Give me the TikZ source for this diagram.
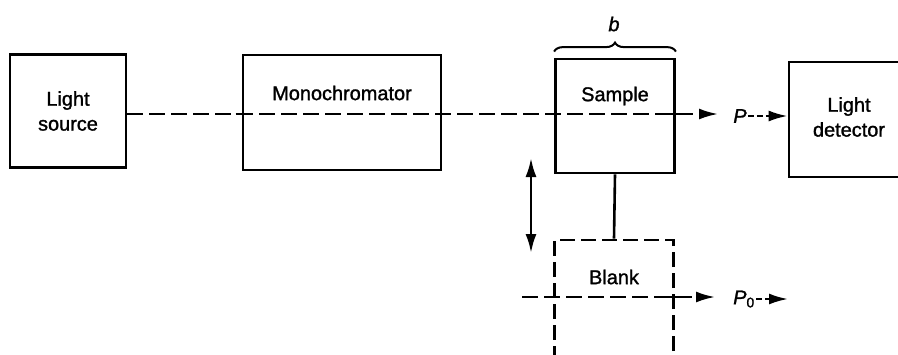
\documentclass[tikz,border=0pt]{standalone}
\usepackage{fontspec}
\setmainfont{Liberation Sans}[FakeBold=1.3]
\usetikzlibrary{arrows.meta,decorations.pathreplacing}
\begin{document}
\begin{tikzpicture}[x=1bp,y=-1bp, line width=2.6bp,
  box/.style={draw, rectangle, inner sep=0pt, line width=2.8bp},
  lbl/.style={font=\fontsize{20}{25}\selectfont, align=center, inner sep=0pt},
  beam/.style={dash pattern=on 16bp off 6bp, line width=2.3bp},
  tipend/.style={-{Latex[length=19bp,width=11bp]}},
  tick/.style={line width=2.3bp}]
\useasboundingbox (0,0) rectangle (898,354);
\clip (0,0) rectangle (898,354);
% boxes
\node[box, minimum width=116bp, minimum height=113bp] (ls) at (68,111) {};
\node[lbl] (lstxt) at (68,111) {Light\\source};
\node[box, minimum width=198bp, minimum height=115bp] (mono) at (342,112.5) {};
\node[lbl] (monotxt) at (342,93) {Monochromator};
\node[box, minimum width=119bp, minimum height=114bp] (sample) at (615,116) {};
\node[lbl] (sampletxt) at (615,96) {Sample};
\node[box, minimum width=120bp, minimum height=115bp] (det) at (849,119.5) {};
\node[lbl] (dettxt) at (849,117) {Light\\detector};
\node[box, dash pattern=on 15bp off 6bp, minimum width=119bp, minimum height=160bp] (blank) at (614,320) {};
\node[lbl] (blanktxt) at (614,277) {Blank};
% brace
\draw[decorate, decoration={brace, amplitude=9bp}, line width=2bp]
  ([yshift=6bp]sample.north west) -- ([yshift=6bp]sample.north east);
\node[lbl, font=\fontsize{20}{25}\selectfont\itshape] (b) at (614,24) {b};
% main beam
\coordinate (pend) at (718,114);
\draw[beam, tipend] (ls.east |- pend) -- (pend);
\foreach \n in {mono.west, mono.east, sample.west, sample.east}
  \draw[tick] ([xshift=-6bp]\n |- pend) -- ([xshift=6bp]\n |- pend);
\node[lbl, font=\fontsize{20}{25}\selectfont\itshape] (P) at (740,116) {P};
\draw[beam, dash pattern=on 6bp off 3bp, tipend] (P.east) -- (det.west |- P.east);
% link sample-blank
\draw (sample.south) -- (blank.north);
% double arrow
\coordinate (da1) at (531,158);
\coordinate (da2) at (531,253);
\draw[{Latex[length=19bp,width=11bp]}-{Latex[length=19bp,width=11bp]}] (da1) -- (da2);
% blank beam
\coordinate (bb0) at (522,297);
\coordinate (bb1) at (715,297);
\draw[beam, tipend] (bb0) -- (bb1);
\foreach \n in {blank.west, blank.east}
  \draw[tick] ([xshift=-6bp]\n |- bb0) -- ([xshift=6bp]\n |- bb0);
\node[lbl] (P0) at (744,299) {\itshape P\textsubscript{\upshape 0}};
\coordinate (p0end) at (788,299);
\draw[beam, dash pattern=on 6bp off 3bp, tipend] (P0.east) -- (p0end);
\end{tikzpicture}
\end{document}
